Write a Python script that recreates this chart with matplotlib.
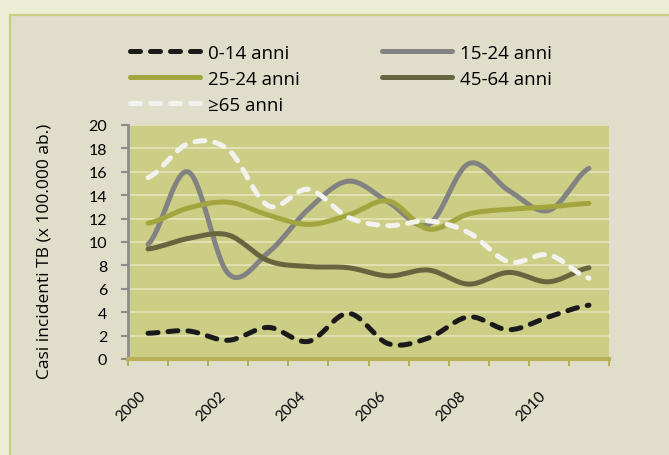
import numpy as np
import matplotlib
matplotlib.use("Agg")
import matplotlib.pyplot as plt
from matplotlib.patches import Rectangle
from matplotlib.transforms import ScaledTranslation

# data
years = list(range(2000, 2012))
age_0_14 = [2.2, 2.4, 1.6, 2.7, 1.5, 3.9, 1.3, 1.8, 3.6, 2.5, 3.6, 4.6]
age_15_24 = [9.8, 16.0, 7.3, 9.1, 12.8, 15.2, 13.4, 11.5, 16.7, 14.4, 12.7, 16.3]
age_25_44 = [11.6, 12.9, 13.4, 12.3, 11.5, 12.3, 13.5, 11.1, 12.4, 12.8, 13.0, 13.3]
age_45_64 = [9.4, 10.3, 10.6, 8.4, 7.9, 7.8, 7.1, 7.6, 6.4, 7.4, 6.6, 7.8]
age_65 = [15.5, 18.4, 17.9, 13.1, 14.5, 12.1, 11.4, 11.8, 10.8, 8.3, 8.9, 6.9]
labels = ["0-14 anni", "15-24 anni", "25-24 anni", "45-64 anni", "\u226565 anni"]
year_labels = [str(y) if y % 2 == 0 else "" for y in years]

plt.rcParams['font.family'] = ['Open Sans', 'DejaVu Sans']


def smooth(xs, ys, n=20):
	# catmull-rom style smoothing like the spreadsheet "smoothed line"
	xs = np.asarray(xs, float)
	ys = np.asarray(ys, float)
	px = np.concatenate([[2 * xs[0] - xs[1]], xs, [2 * xs[-1] - xs[-2]]])
	py = np.concatenate([[ys[0]], ys, [ys[-1]]])
	outx, outy = [], []
	for i in range(1, len(px) - 2):
		p0x, p1x, p2x, p3x = px[i - 1:i + 3]
		p0y, p1y, p2y, p3y = py[i - 1:i + 3]
		c1x, c1y = p1x + (p2x - p0x) / 6, p1y + (p2y - p0y) / 6
		c2x, c2y = p2x - (p3x - p1x) / 6, p2y - (p3y - p1y) / 6
		t = np.linspace(0, 1, n)
		bx = (1 - t)**3 * p1x + 3 * (1 - t)**2 * t * c1x + 3 * (1 - t) * t**2 * c2x + t**3 * p2x
		by = (1 - t)**3 * p1y + 3 * (1 - t)**2 * t * c1y + 3 * (1 - t) * t**2 * c2y + t**3 * p2y
		outx.extend(bx)
		outy.extend(by)
	return np.array(outx), np.array(outy)


fig = plt.figure(figsize=(6.69, 4.56), dpi=100)
fig.patch.set_facecolor("#EDEDD5")
fig.patches.append(Rectangle((10 / 669, -0.01), 1, 1.01 - 16 / 456, transform=fig.transFigure,
	facecolor="#E0DECA", edgecolor="#C9CC82", linewidth=1.6, zorder=-1))

ax = fig.add_axes([128 / 669, (456 - 360) / 456, 481 / 669, 234 / 456])
ax.set_zorder(2)
ax.set_facecolor("#CDCE85")

series = [
	(age_0_14, "#1A1A1A", (0, (2, 2))),
	(age_15_24, "#828282", "-"),
	(age_25_44, "#A3A53E", "-"),
	(age_45_64, "#67653F", "-"),
	(age_65, "#F2F2EE", (0, (2, 2))),
]
x = np.arange(len(years))
handles = []
for (vals, col, ls), lab in zip(series, labels):
	sx, sy = smooth(x, vals)
	h, = ax.plot(sx, sy, color=col, linestyle=ls, linewidth=3.6,
		dash_capstyle='round', solid_capstyle='round', label=lab, zorder=3)
	handles.append(h)

ax.set_xlim(-0.5, len(years) - 0.5)
ax.set_ylim(0, 20)
ax.set_yticks(range(0, 21, 2))
ax.set_yticklabels([str(v) for v in range(0, 21, 2)], fontsize=11.5, family='Lato')
ax.yaxis.grid(True, color="#E3E2B6", linewidth=1.3)
ax.set_axisbelow(True)

ax.set_xticks(np.arange(-0.5, len(years), 1.0))
ax.set_xticklabels([])
ax.set_xticks(x, minor=True)
ax.set_xticklabels(year_labels, minor=True, rotation=45, fontsize=11, family='Lato',
	ha='right', va='top')
off = ScaledTranslation(6 / 72, 0, fig.dpi_scale_trans)
for t in ax.get_xticklabels(minor=True):
	t.set_transform(t.get_transform() + off)
ax.tick_params(axis='x', which='minor', length=0, pad=21)
ax.tick_params(axis='x', which='major', length=5, color="#B8B058", width=1.5, direction='out')
ax.tick_params(axis='y', length=5, color="#8C8C8C", width=1.5, pad=10)

for s in ["top", "right"]:
	ax.spines[s].set_visible(False)
ax.spines["left"].set_color("#8C8C8C")
ax.spines["left"].set_linewidth(2)
ax.spines["bottom"].set_color("#B8B058")
ax.spines["bottom"].set_linewidth(3)

ax.set_ylabel("Casi incidenti TB (x 100.000 ab.)", fontsize=12.5)
ax.yaxis.set_label_coords(-0.156, 0.466)

# legend fills columns first, so reorder to read row by row
order = [0, 2, 4, 1, 3]
leg = fig.legend([handles[i] for i in order], [labels[i] for i in order], loc='upper left',
	bbox_to_anchor=(113 / 669, 1 - 28 / 456), ncol=2, frameon=False, fontsize=13.5,
	handlelength=3.75, columnspacing=4.4, labelspacing=0.42, handletextpad=0.4)
leg.set_zorder(3)

fig.savefig("out.png", dpi=100, facecolor=fig.get_facecolor())
